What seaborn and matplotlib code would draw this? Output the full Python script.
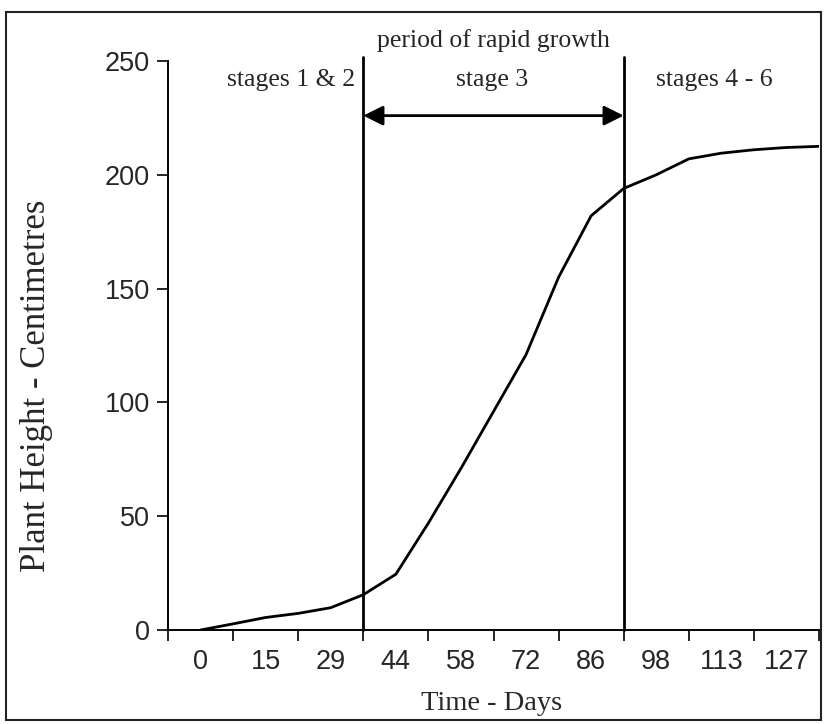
import matplotlib
matplotlib.use("Agg")
import matplotlib.pyplot as plt
import seaborn as sns
import pandas as pd
from matplotlib.patches import Rectangle
from matplotlib.ticker import FixedLocator

# ---- data ----
day_labels = ["0", "15", "29", "44", "58", "72", "86", "98", "113", "127"]
sample_pos = [0, 0.5, 1, 1.5, 2, 2.5, 3, 3.5, 4, 4.5,
              5, 5.5, 6, 6.5, 7, 7.5, 8, 8.5, 9, 9.5]
height_cm = [0, 2.7, 5.5, 7.3, 9.8, 15.5, 24.5, 47, 71, 96,
             121, 155, 182, 194, 200, 207, 209.5, 211, 212, 212.5]
stage_bounds = [2.5, 6.5]
stage_names = ["stages 1 & 2", "stage 3", "stages 4 - 6"]
y_ticks = [0, 50, 100, 150, 200, 250]

sns.set_style("ticks")
plt.rcParams["font.family"] = ["Liberation Sans", "DejaVu Sans"]
SERIF = ["Liberation Serif", "DejaVu Serif"]

fig = plt.figure(figsize=(8.25, 7.24), dpi=100)
ax = fig.add_axes([168 / 825, 1 - 630 / 724, (819 - 168) / 825, (630 - 61) / 724])

df = pd.DataFrame({"pos": sample_pos, "height": height_cm})
sns.lineplot(data=df, x="pos", y="height", ax=ax, color="black", linewidth=2.0)

ax.set_xlim(-0.5, len(day_labels) - 0.5)
ax.set_ylim(0, 250)

# spines
sns.despine(ax=ax, top=True, right=True)
for s in ["left", "bottom"]:
    ax.spines[s].set_linewidth(1.4)
    ax.spines[s].set_color("black")

# x axis: labels centred on categories, tick marks at boundaries
ax.set_xticks(range(len(day_labels)))
ax.set_xticklabels(day_labels, fontsize=19.5)
ax.xaxis.set_minor_locator(FixedLocator([i - 0.5 for i in range(len(day_labels) + 1)]))
ax.tick_params(axis="x", which="major", length=0, pad=14)
ax.tick_params(axis="x", which="minor", length=8, width=1.2, direction="out", color="black")

ax.set_yticks(y_ticks)
ax.tick_params(axis="y", which="major", length=8, width=1.2, direction="out",
               labelsize=19.5, pad=5, color="black")

ax.set_xlabel("Time - Days", fontsize=20.5, family=SERIF)
ax.xaxis.label.set_va("center")
ax.xaxis.set_label_coords((492 - 168) / 651, (630 - 704) / 569)

ax.set_ylabel("Plant Height - Centimetres", fontsize=25, family=SERIF)
ax.yaxis.label.set_va("center")
ax.yaxis.set_label_coords((37 - 168) / 651, (630 - 386) / 569)

# stage boundary lines
for b in stage_bounds:
    ax.plot([b, b], [0, 251.7], color="black", linewidth=2.0, clip_on=False)

# double arrow for stage 3
ax.annotate("", xy=(stage_bounds[0], 226), xytext=(stage_bounds[1], 226),
            arrowprops=dict(arrowstyle="<|-|>", color="black", lw=2.0,
                            mutation_scale=30, shrinkA=0, shrinkB=0))

# texts
ax.text(1.39, 241.7, stage_names[0], ha="center", va="center", fontsize=18.5, family=SERIF)
ax.text(4.48, 241.7, stage_names[1], ha="center", va="center", fontsize=18.5, family=SERIF)
ax.text(7.89, 241.7, stage_names[2], ha="center", va="center", fontsize=18.5, family=SERIF)
ax.text(4.5, 259, "period of rapid growth", ha="center", va="center",
        fontsize=18.5, family=SERIF, clip_on=False)

# outer border
fig.patches.append(Rectangle((6 / 825, 1 - 720 / 724), (821 - 6) / 825, (720 - 12) / 724,
                             transform=fig.transFigure, fill=False,
                             edgecolor="#222222", linewidth=1.5))

fig.savefig("out.png", dpi=100)
